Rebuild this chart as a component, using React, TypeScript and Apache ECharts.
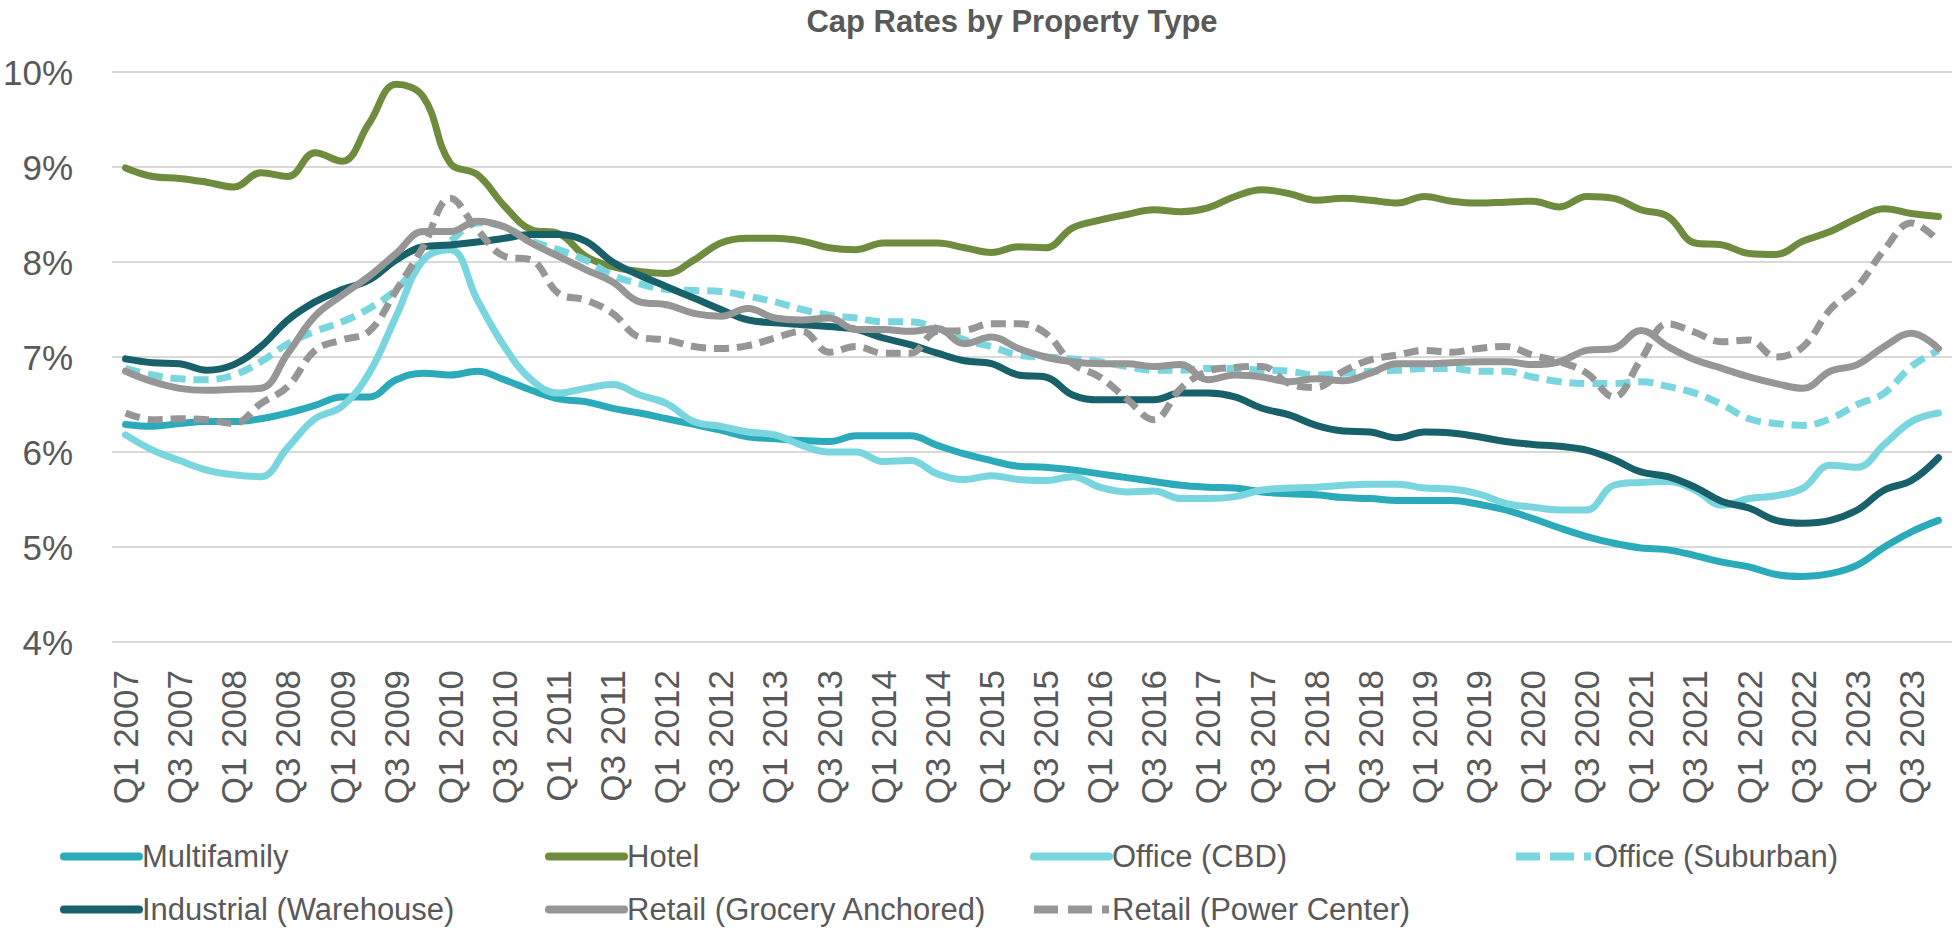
import React, { useEffect, useRef } from "react";
import * as echarts from "echarts";

const YEARS = ["2007","2008","2009","2010","2011","2012","2013","2014","2015","2016","2017","2018","2019","2020","2021","2022","2023"];
const QUARTER_NAMES = ["Q1","Q2","Q3","Q4"];
const CATEGORIES: string[] = YEARS.flatMap((y) => QUARTER_NAMES.map((q) => `${q} ${y}`));

const Y_TICKS = [4, 5, 6, 7, 8, 9, 10];

const MULTIFAMILY = [6.29,6.27,6.30,6.32,6.32,6.35,6.41,6.49,6.58,6.58,6.76,6.83,6.81,6.85,6.76,6.65,6.56,6.53,6.46,6.41,6.35,6.29,6.23,6.16,6.14,6.12,6.11,6.17,6.17,6.17,6.07,5.98,5.91,5.85,5.84,5.81,5.77,5.73,5.69,5.65,5.63,5.62,5.58,5.56,5.55,5.52,5.51,5.49,5.49,5.49,5.45,5.39,5.30,5.20,5.11,5.04,4.99,4.97,4.91,4.84,4.79,4.71,4.69,4.72,4.81,5.00,5.16,5.28];
const HOTEL = [8.99,8.90,8.88,8.84,8.79,8.94,8.90,9.15,9.06,9.46,9.87,9.74,9.04,8.92,8.59,8.34,8.30,8.06,7.95,7.90,7.88,8.02,8.20,8.25,8.25,8.22,8.15,8.13,8.20,8.20,8.20,8.15,8.10,8.16,8.15,8.36,8.44,8.50,8.55,8.53,8.57,8.69,8.76,8.72,8.65,8.67,8.65,8.62,8.69,8.64,8.62,8.63,8.64,8.58,8.69,8.67,8.55,8.48,8.20,8.18,8.09,8.08,8.22,8.32,8.46,8.56,8.51,8.48];
const OFFICE_CBD = [6.18,6.02,5.91,5.81,5.76,5.74,6.05,6.35,6.48,6.83,7.43,8.02,8.13,7.60,7.11,6.76,6.62,6.67,6.71,6.60,6.51,6.32,6.27,6.21,6.18,6.07,6.00,6.00,5.90,5.91,5.77,5.71,5.75,5.71,5.70,5.74,5.63,5.58,5.59,5.51,5.51,5.53,5.60,5.62,5.63,5.65,5.66,5.66,5.62,5.61,5.56,5.46,5.42,5.39,5.39,5.65,5.68,5.69,5.60,5.44,5.51,5.54,5.62,5.86,5.84,6.08,6.32,6.41];
const OFFICE_SUBURBAN = [6.88,6.81,6.77,6.76,6.81,6.95,7.14,7.27,7.37,7.51,7.71,8.02,8.22,8.41,8.37,8.22,8.13,8.02,7.86,7.77,7.71,7.70,7.69,7.64,7.58,7.50,7.44,7.41,7.37,7.37,7.30,7.18,7.11,7.02,7.00,6.98,6.95,6.90,6.86,6.86,6.88,6.88,6.86,6.85,6.81,6.83,6.85,6.86,6.88,6.88,6.85,6.85,6.79,6.74,6.72,6.72,6.74,6.69,6.62,6.50,6.35,6.30,6.28,6.35,6.50,6.62,6.90,7.07];
const INDUSTRIAL = [6.98,6.94,6.93,6.86,6.92,7.11,7.39,7.58,7.71,7.81,8.02,8.16,8.18,8.21,8.25,8.29,8.29,8.22,8.00,7.86,7.74,7.62,7.50,7.39,7.36,7.34,7.32,7.29,7.20,7.13,7.04,6.96,6.93,6.81,6.79,6.60,6.55,6.55,6.55,6.62,6.62,6.58,6.46,6.39,6.28,6.22,6.21,6.15,6.21,6.20,6.16,6.11,6.08,6.06,6.02,5.92,5.79,5.74,5.63,5.48,5.41,5.28,5.25,5.28,5.39,5.60,5.70,5.94];
const RETAIL_GROCERY = [6.85,6.74,6.67,6.65,6.66,6.67,7.04,7.43,7.65,7.85,8.09,8.32,8.32,8.43,8.37,8.20,8.06,7.92,7.79,7.58,7.55,7.46,7.43,7.51,7.41,7.39,7.41,7.29,7.29,7.27,7.30,7.14,7.21,7.09,7.00,6.95,6.93,6.93,6.90,6.92,6.76,6.81,6.79,6.74,6.77,6.75,6.83,6.93,6.93,6.94,6.95,6.95,6.92,6.95,7.07,7.09,7.28,7.11,6.97,6.88,6.79,6.72,6.67,6.85,6.92,7.11,7.25,7.09];
const RETAIL_POWER = [6.41,6.34,6.35,6.34,6.30,6.51,6.69,7.07,7.18,7.27,7.70,8.16,8.67,8.34,8.06,8.02,7.67,7.60,7.46,7.21,7.18,7.11,7.09,7.12,7.20,7.27,7.05,7.11,7.04,7.04,7.27,7.28,7.35,7.35,7.25,6.93,6.79,6.56,6.34,6.67,6.85,6.89,6.90,6.72,6.68,6.85,6.97,7.02,7.07,7.05,7.09,7.11,7.02,6.95,6.83,6.58,6.97,7.35,7.26,7.16,7.18,7.00,7.11,7.50,7.74,8.13,8.41,8.22];

const SERIES_NAMES = [
  "Multifamily",
  "Hotel",
  "Office (CBD)",
  "Office (Suburban)",
  "Industrial (Warehouse)",
  "Retail (Grocery Anchored)",
  "Retail (Power Center)",
];
const SERIES_DATA = [MULTIFAMILY, HOTEL, OFFICE_CBD, OFFICE_SUBURBAN, INDUSTRIAL, RETAIL_GROCERY, RETAIL_POWER];
const SERIES_COLORS = ["#2BABB9", "#6F8B3D", "#79D6DF", "#79D6DF", "#18616A", "#969696", "#969696"];
const SERIES_DASHED = [false, false, false, true, false, false, true];

const LEGEND_POS = [
  [60, 841], [545, 841], [1030, 841], [1512, 841],
  [60, 894], [545, 894], [1030, 894],
];

const FONT = "'Liberation Sans', Arial, sans-serif";
const TEXT_COLOR = "#595959";

export default function App() {
  const ref = useRef<HTMLDivElement>(null);
  useEffect(() => {
    if (!ref.current) return;
    const chart = echarts.init(ref.current, undefined, { renderer: "svg" });
    const option: any = {
      animation: false,
      backgroundColor: "#ffffff",
      textStyle: { fontFamily: FONT },
      graphic: [
        {
          type: "text",
          x: 1012,
          y: 21,
          style: {
            text: "Cap Rates by Property Type",
            fontFamily: FONT,
            fontSize: 31,
            fontWeight: "bold",
            fill: TEXT_COLOR,
            textAlign: "center",
            textVerticalAlign: "middle",
          },
        },
      ],
      grid: { left: 109, right: 3, top: 72, bottom: 291, containLabel: false },
      xAxis: {
        type: "category",
        data: CATEGORIES,
        boundaryGap: true,
        axisLine: { show: false },
        axisTick: { show: false },
        axisLabel: {
          interval: 1,
          rotate: 90,
          margin: 28,
          fontFamily: FONT,
          fontSize: 35,
          color: TEXT_COLOR,
        },
        splitLine: { show: false },
      },
      yAxis: {
        type: "value",
        min: Y_TICKS[0],
        max: Y_TICKS[Y_TICKS.length - 1],
        interval: 1,
        axisLine: { show: false },
        axisTick: { show: false },
        axisLabel: {
          formatter: "{value}%",
          margin: 39,
          fontFamily: FONT,
          fontSize: 35,
          color: TEXT_COLOR,
        },
        splitLine: { show: true, lineStyle: { color: "#d9d9d9", width: 2 } },
      },
      legend: SERIES_NAMES.map((name, i) => ({
        data: [name],
        left: LEGEND_POS[i][0],
        top: LEGEND_POS[i][1],
        itemWidth: 75,
        itemHeight: 8,
        padding: 0,
        selectedMode: false,
        itemStyle: { opacity: 0 },
        lineStyle: {
          width: 8,
          cap: SERIES_DASHED[i] ? "butt" : "round",
          type: SERIES_DASHED[i] ? [24, 10] : "solid",
        },
        textStyle: { fontFamily: FONT, fontSize: 31, color: TEXT_COLOR, padding: [0, 0, 0, -2] },
      })),
      series: SERIES_NAMES.map((name, i) => ({
        name,
        type: "line",
        data: SERIES_DATA[i],
        smooth: 0.4,
        symbol: "none",
        showSymbol: false,
        lineStyle: {
          color: SERIES_COLORS[i],
          width: 7,
          type: SERIES_DASHED[i] ? [15, 8] : "solid",
          cap: SERIES_DASHED[i] ? "butt" : "round",
          join: "round",
        },
        itemStyle: { color: SERIES_COLORS[i] },
        emphasis: { disabled: true },
      })),
    };
    chart.setOption(option);
    return () => chart.dispose();
  }, []);
  return (
    <div
      ref={ref}
      style={{ position: "fixed", left: 0, top: 0, width: 1955, height: 933, background: "#fff" }}
    />
  );
}
